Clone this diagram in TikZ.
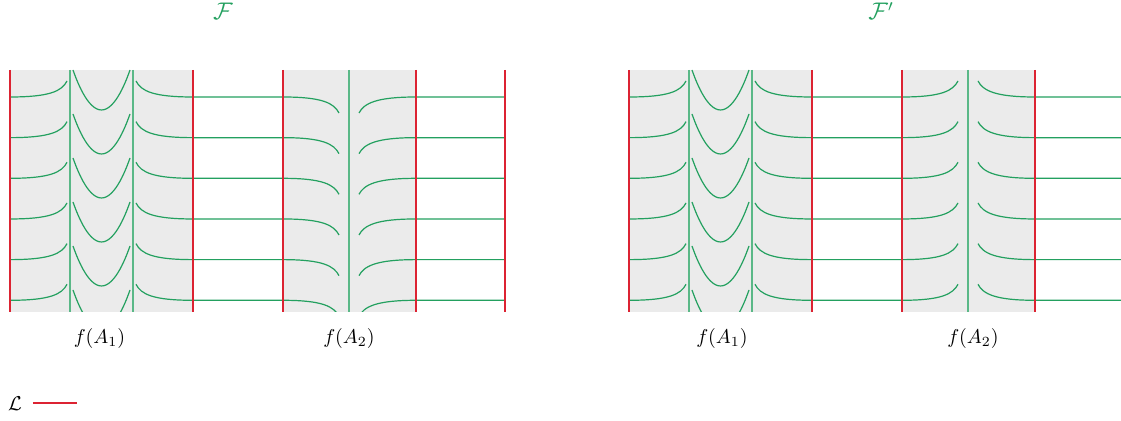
\documentclass[tikz,border=0pt]{standalone}
\usepackage{amsmath,amssymb}
\usepackage{xcolor}
\usepackage{tikz}
\definecolor{leafgreen}{RGB}{35,160,95}
\definecolor{lamred}{RGB}{220,35,50}

\begin{document}
\begin{tikzpicture}[
  x=0.5pt, y=-0.5pt,
  every node/.style={font=\normalsize},
  band/.style={fill=black!8},
  leaf/.style={draw=leafgreen, line width=0.6pt},
  wall/.style={draw=leafgreen!75, line width=0.7pt},
  lam/.style={draw=lamred, line width=1pt},
  title/.style={font=\large, color=leafgreen, inner sep=0pt},
]
\useasboundingbox (0,0) rectangle (1121,421);
% the two foliations F and F'
\foreach \dx/\dd/\xe in {0/16/505, 619/-16/502} {
  \begin{scope}[shift={(\dx,0)}]
    \fill[band] (10,70) rectangle (193,312);
    \fill[band] (283,70) rectangle (416,312);
    \begin{scope}
      \clip (0,70) rectangle (\xe,312);
      \foreach \k in {0,...,5}
        \draw[leaf] (73,70+44*\k) parabola bend (101.5,110+44*\k) (130,70+44*\k);
      \foreach \k in {0,...,5} {
        \pgfmathsetmacro{\y}{97+40.66*\k}
        \pgfmathsetmacro{\yb}{\y+\dd}
        \pgfmathsetmacro{\yc}{\y+0.4*\dd}
        \draw[leaf] (10,\y) .. controls (50,\y) and (62,\y-6) .. (67,\y-16);
        \draw[leaf] (136,\y-16) .. controls (141,\y-6) and (153,\y) .. (193,\y)
          -- (283,\y) .. controls (323,\y) and (334,\yc) .. (339,\yb);
        \draw[leaf] (359,\yb) .. controls (364,\yc) and (376,\y) .. (416,\y) -- (\xe,\y);
      }
    \end{scope}
    \foreach \x in {70,133,349}
      \draw[wall] (\x,70) -- (\x,312);
    \foreach \x in {10,193,283,416}
      \draw[lam] (\x,70) -- (\x,312);
  \end{scope}
}
\draw[lam] (505,70) -- (505,312);
% labels
\node[title] (tF) at (223,11) {$\mathcal{F}$};
\node[title] (tFp) at (881,11) {$\mathcal{F}'$};
\node (a1) at (99.5,339) {$f(A_1)$};
\node (a2) at (349,339) {$f(A_2)$};
\node (a1p) at (722,339) {$f(A_1)$};
\node (a2p) at (973,339) {$f(A_2)$};
% legend
\node (legL) at (15,404) {$\mathcal{L}$};
\draw[lam] (legL.east) ++(4,-1) -- ++(44,0);
\end{tikzpicture}
\end{document}
